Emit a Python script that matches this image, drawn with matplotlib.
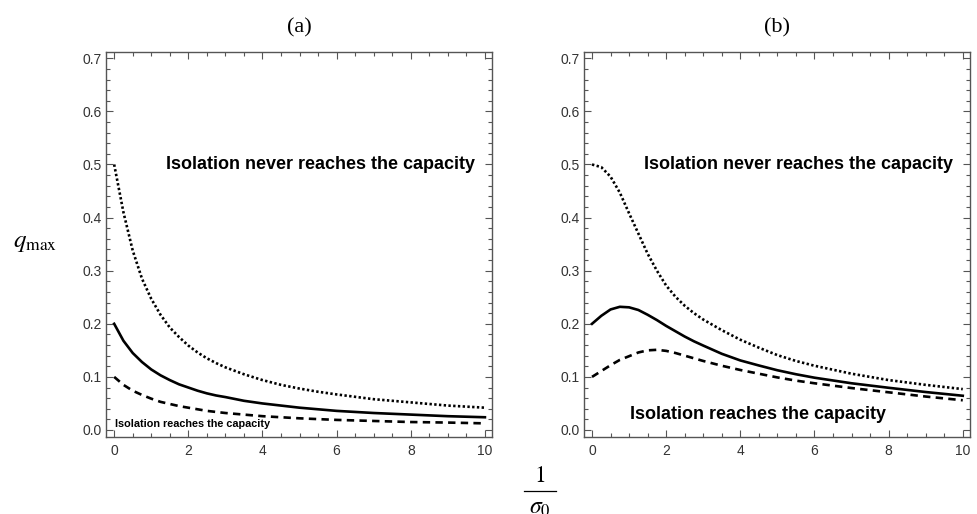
import matplotlib

matplotlib.use("Agg")
import matplotlib.pyplot as plt
from matplotlib.lines import Line2D
from matplotlib.ticker import FormatStrFormatter, MultipleLocator

plt.rcParams["font.family"] = ["Liberation Sans", "DejaVu Sans"]
plt.rcParams["mathtext.fontset"] = "stix"

# 1/sigma_0 grid shared by all curves
inv_sigma = [0, 0.25, 0.5, 0.75, 1, 1.25, 1.5, 1.75, 2, 2.25, 2.5, 2.75,
             3, 3.5, 4, 4.5, 5, 5.5, 6, 7, 8, 9, 10]

# panel (a)
a_dotted = [0.500, 0.410, 0.338, 0.285, 0.247, 0.217, 0.193, 0.175, 0.159, 0.146, 0.135, 0.126,
            0.118, 0.105, 0.094, 0.085, 0.078, 0.072, 0.067, 0.058, 0.052, 0.046, 0.042]
a_solid = [0.200, 0.168, 0.145, 0.128, 0.114, 0.103, 0.094, 0.086, 0.080, 0.074, 0.069, 0.065,
           0.062, 0.055, 0.050, 0.046, 0.042, 0.039, 0.036, 0.032, 0.029, 0.026, 0.024]
a_dashed = [0.100, 0.085, 0.074, 0.066, 0.059, 0.053, 0.049, 0.045, 0.042, 0.039, 0.036, 0.034,
            0.032, 0.029, 0.026, 0.024, 0.022, 0.0205, 0.019, 0.017, 0.015, 0.014, 0.0125]

# panel (b)
b_dotted = [0.500, 0.495, 0.477, 0.447, 0.408, 0.370, 0.332, 0.300, 0.272, 0.251, 0.234, 0.220,
            0.208, 0.188, 0.170, 0.155, 0.141, 0.130, 0.121, 0.106, 0.094, 0.085, 0.077]
b_solid = [0.200, 0.215, 0.227, 0.232, 0.231, 0.226, 0.217, 0.207, 0.196, 0.186, 0.176, 0.167,
           0.159, 0.1435, 0.131, 0.1215, 0.1125, 0.105, 0.0985, 0.088, 0.0795, 0.0715, 0.0645]
b_dashed = [0.100, 0.111, 0.122, 0.132, 0.139, 0.146, 0.150, 0.151, 0.149, 0.145, 0.140, 0.135,
            0.130, 0.121, 0.113, 0.106, 0.099, 0.093, 0.088, 0.079, 0.071, 0.063, 0.056]

top_note = "Isolation never reaches the capacity"
bottom_note = "Isolation reaches the capacity"

fig = plt.figure(figsize=(9.78, 5.14), dpi=100)
ax_a = fig.add_axes([0.1084, 0.150, 0.395, 0.749])
ax_b = fig.add_axes([0.597, 0.150, 0.395, 0.749])

frame_col = "#555555"
for ax, title, dotted, solid, dashed in [
    (ax_a, "(a)", a_dotted, a_solid, a_dashed),
    (ax_b, "(b)", b_dotted, b_solid, b_dashed),
]:
    ax.plot(inv_sigma, dotted, color="black", lw=1.9, linestyle=(0, (0.9, 0.9)))
    ax.plot(inv_sigma, solid, color="black", lw=1.9, solid_joinstyle="round")
    ax.plot(inv_sigma, dashed, color="black", lw=1.9, linestyle=(0, (2.8, 2.0)))
    ax.set_xlim(-0.22, 10.2)
    ax.set_ylim(-0.013, 0.712)
    ax.xaxis.set_major_locator(MultipleLocator(2))
    ax.xaxis.set_minor_locator(MultipleLocator(0.5))
    ax.yaxis.set_major_locator(MultipleLocator(0.1))
    ax.yaxis.set_minor_locator(MultipleLocator(0.02))
    ax.yaxis.set_major_formatter(FormatStrFormatter("%.1f"))
    ax.tick_params(which="both", direction="in", top=True, right=True,
                   color=frame_col, labelsize=10, labelcolor="#333333", width=0.8)
    ax.tick_params(which="major", length=5)
    ax.tick_params(which="minor", length=3)
    ax.tick_params(axis="x", pad=5)
    ax.tick_params(axis="y", pad=3)
    for sp in ax.spines.values():
        sp.set_color(frame_col)
        sp.set_linewidth(1.0)
    ax.set_title(title, fontsize=16, family="Liberation Serif", pad=14)

ax_a.text(1.4, 0.5, top_note, fontsize=13, fontweight="bold", va="center", ha="left")
ax_a.text(0.01, 0.0107, bottom_note, fontsize=7.8, fontweight="bold", va="center", ha="left")
ax_b.text(1.4, 0.5, top_note, fontsize=13, fontweight="bold", va="center", ha="left")
ax_b.text(1.02, 0.0295, bottom_note, fontsize=13, fontweight="bold", va="center", ha="left")

# y label
fig.text(35 / 978, 1 - 242 / 514, r"$q_{\max}$", fontsize=18, ha="center", va="center")

# x label drawn as a stacked fraction 1 / sigma_0
fx = 540 / 978
fig.text(fx, 1 - 476 / 514, r"$1$", fontsize=17, ha="center", va="center")
fig.add_artist(Line2D([524 / 978, 556 / 978], [1 - 491 / 514, 1 - 491 / 514],
                      transform=fig.transFigure, color="black", lw=0.9))
fig.text(fx, 1 - 508 / 514, r"$\sigma_0$", fontsize=17, ha="center", va="center")

fig.savefig("out.png", dpi=100)
